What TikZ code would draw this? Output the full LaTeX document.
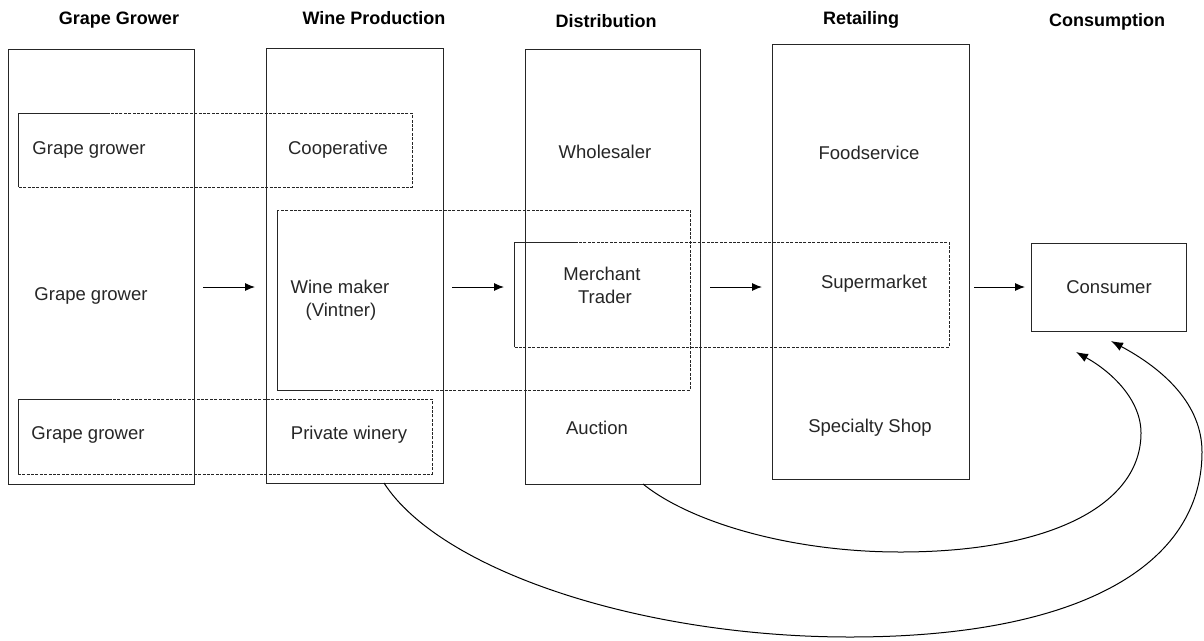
\documentclass[tikz,border=0pt]{standalone}
\usepackage{fontspec}
\setmainfont{Liberation Sans}
\usetikzlibrary{arrows.meta}
\begin{document}
\begin{tikzpicture}[x=1pt,y=-1pt,
  lw/.style={line width=0.9pt},
  colbox/.style={draw=black!85, lw, inner sep=0pt, anchor=center},
  txt/.style={inner sep=0pt, align=center, text=black!85, font=\fontsize{18.5}{23}\selectfont},
  hdr/.style={inner sep=0pt, font=\fontsize{18}{22}\selectfont\bfseries},
  dbox/.style={draw=black!85, line width=0.9pt, dash pattern=on 3pt off 1.4pt},
  sbox/.style={draw=black!85, line width=0.9pt},
  flow/.style={line width=1pt, -{Latex[length=10pt,width=8pt]}},
  back/.style={line width=1pt, -{Latex[length=12pt,width=9pt]}}]
\useasboundingbox (0,0) rectangle (1204,640);
\fill[white] (0,0) rectangle (1204,640);

% headers
\node[hdr] (h1) at (119,20) {Grape Grower};
\node[hdr] (h2) at (374,18) {Wine Production};
\node[hdr] (h3) at (606,21) {Distribution};
\node[hdr] (h4) at (861,20) {Retailing};
\node[hdr] (h5) at (1107,22) {Consumption};

% column boxes
\node[colbox, minimum width=186pt, minimum height=435pt] (col1) at (101,266.5) {};
\node[colbox, minimum width=177pt, minimum height=435pt] (col2) at (354.5,265.5) {};
\node[colbox, minimum width=175pt, minimum height=435pt] (col3) at (612.5,266.5) {};
\node[colbox, minimum width=197pt, minimum height=435pt] (col4) at (870.5,261.5) {};
\node[colbox, minimum width=155pt, minimum height=88pt] (cons) at (1108.5,287) {};

% dashed groupings
\draw[dbox] (18,113) rectangle (412,187);
\draw[sbox] (110,113) -- (18,113) -- (18,187);
\draw[dbox] (277,210) rectangle (690,390);
\draw[sbox] (277,210) -- (277,390) -- (332,390);
\draw[dbox] (514,242) rectangle (949,347);
\draw[sbox] (514,347) -- (514,242) -- (575,242);
\draw[dbox] (18,399) rectangle (432,474);
\draw[sbox] (111,399) -- (18,399) -- (18,474);

% texts
\node[txt] (gg1) at (89,150) {Grape grower};
\node[txt] (coop) at (338,150) {Cooperative};
\node[txt] (whole) at (605,152) {Wholesaler};
\node[txt] (food) at (869,153) {Foodservice};
\node[txt] (gg2) at (91,296) {Grape grower};
\node[txt] (wine) at (340,300) {Wine maker\\\hspace*{2pt}(Vintner)};
\node[txt] (merch) at (602,285) {Merchant\\\hspace*{6pt}Trader};
\node[txt] (super) at (874,284) {Supermarket};
\node[txt] (consumer) at (1109,287) {Consumer};
\node[txt] (gg3) at (88,435) {Grape grower};
\node[txt] (priv) at (349,435) {Private winery};
\node[txt] (auct) at (597,428) {Auction};
\node[txt] (spec) at (870,428) {Specialty Shop};

% flow arrows
\coordinate (a1s) at (203,287); \coordinate (a1e) at (255,287);
\coordinate (a2s) at (452,287); \coordinate (a2e) at (504,287);
\coordinate (a3s) at (710,287); \coordinate (a3e) at (762,287);
\coordinate (a4s) at (974,287); \coordinate (a4e) at (1025,287);
\draw[flow] (a1s) -- (a1e);
\draw[flow] (a2s) -- (a2e);
\draw[flow] (a3s) -- (a3e);
\draw[flow] (a4s) -- (a4e);

% return curves
\coordinate (ca) at (643,484);
\coordinate (cb) at (384,483);
\coordinate (ea) at (1076,352);
\coordinate (eb) at (1111,341);
\draw[back] (ca) .. controls (690,522) and (790,552) .. (900,552)
  .. controls (1050,552) and (1141,505) .. (1141,433)
  .. controls (1141,400) and (1112,372) .. (ea);
\draw[back] (cb) .. controls (440,570) and (640,637) .. (850,637)
  .. controls (1080,637) and (1202,565) .. (1202,452)
  .. controls (1202,405) and (1165,370) .. (eb);
\end{tikzpicture}
\end{document}
